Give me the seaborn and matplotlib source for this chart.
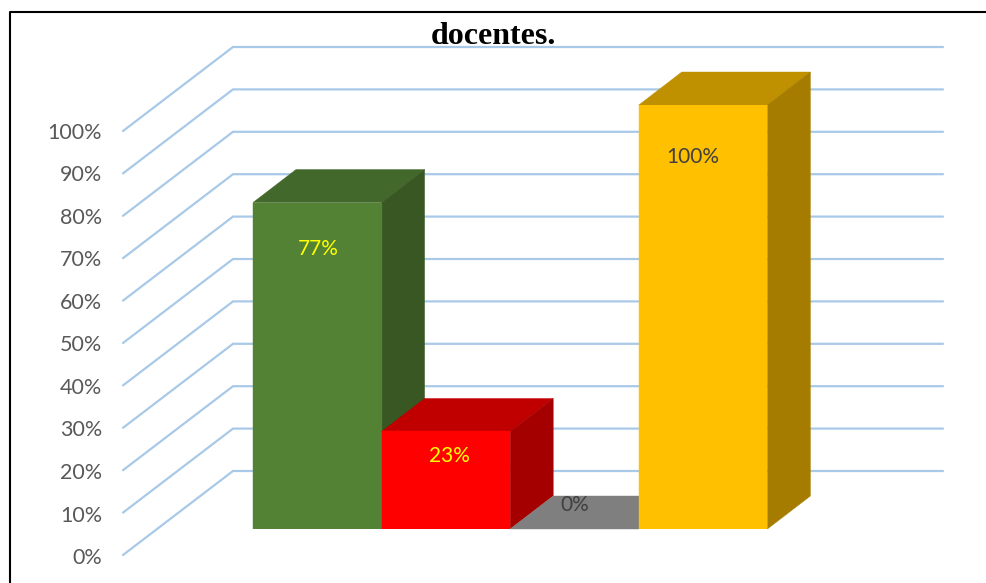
import matplotlib
matplotlib.use('Agg')
import matplotlib.pyplot as plt
from matplotlib.lines import Line2D
import seaborn as sns

# data
categorias = ['A', 'B', 'C', 'D']
valores = [77, 23, 0, 100]
etiquetas = ['77%', '23%', '0%', '100%']
ticks = [0, 10, 20, 30, 40, 50, 60, 70, 80, 90, 100]

# colores: frente, arriba, lado
frente = ['#548235', '#FF0000', '#7F7F7F', '#FFC000']
arriba = ['#43682B', '#C00000', '#7F7F7F', '#BF9000']
lado = ['#385723', '#A50000', '#7F7F7F', '#A67C00']
color_etiqueta = ['#FFFF00', '#FFFF00', '#404040', '#404040']
color_rejilla = '#A9C9E8'

W, H = 987, 583
sns.set_theme(style='white')
plt.rcParams['font.family'] = ['Lato', 'DejaVu Sans']

fig = plt.figure(figsize=(W / 100, H / 100), dpi=100)
fig.patch.set_facecolor('white')

# eje de las barras: plano frontal, 0% en y=529 y 100% en y=105 (pixeles)
x0, x1 = 156, 864
y0, y1 = 529, 105
ax = fig.add_axes([x0 / W, (H - y0) / H, (x1 - x0) / W, (y0 - y1) / H])
ax.patch.set_alpha(0)
px_x = 128.6
px_y = (y0 - y1) / 100
xlim = ((x0 - 253) / px_x - 0.5, (x1 - 253) / px_x - 0.5)


def dx(p):
    return p / px_x


def dy(p):
    return p / px_y


# rejilla: pared del fondo y pared lateral
izq = xlim[0]
for t in ticks:
    ax.plot([izq + dx(-33), izq + dx(77), izq + dx(787)],
            [t + dy(-26), t + dy(58), t + dy(58)],
            color=color_rejilla, lw=1.6, clip_on=False, zorder=1, solid_joinstyle='miter')

sns.barplot(x=categorias, y=valores, hue=categorias, palette=frente, width=1.0,
            saturation=1, legend=False, dodge=False, ax=ax, zorder=3, linewidth=0)
ax.set_xlim(xlim)
ax.set_ylim(0, 100)

# caras superior y lateral de cada barra
prof_x, prof_y = dx(43), dy(33)
for i, v in enumerate(valores):
    a, b = i - 0.5, i + 0.5
    z = 3 + i * 0.1
    ax.fill([a, b, b + prof_x, a + prof_x], [v, v, v + prof_y, v + prof_y],
            facecolor=arriba[i], edgecolor=arriba[i], lw=0.3, clip_on=False, zorder=z)
    if v > 0:
        ax.fill([b, b + prof_x, b + prof_x, b], [0, prof_y, v + prof_y, v],
                facecolor=lado[i], edgecolor=lado[i], lw=0.3, clip_on=False, zorder=z)
for i, p in enumerate(ax.patches[:len(valores)]):
    p.set_zorder(3 + i * 0.1 + 0.05)
    p.set_edgecolor(frente[i])
    p.set_linewidth(0.3)

# etiquetas de datos, en pixeles de la figura
pos_etiqueta = [(318, 249), (449, 456), (575, 505), (693, 157)]
for (xe, ye), txt, c in zip(pos_etiqueta, etiquetas, color_etiqueta):
    ax.text((xe - 253) / px_x - 0.5, (y0 - ye) / px_y, txt, color=c, fontsize=15,
            ha='center', va='center', zorder=6)

ax.set_xticks([])
ax.set_yticks([])
ax.set_xlabel('')
ax.set_ylabel('')
sns.despine(ax=ax, left=True, bottom=True)

# eje de valores, en el plano delantero
ax_t = fig.add_axes([123 / W, (H - 556) / H, 1 / W, 425 / H])
ax_t.patch.set_alpha(0)
ax_t.set_ylim(0, 100)
ax_t.set_xticks([])
ax_t.set_yticks(ticks)
ax_t.set_yticklabels([f'{t}%' for t in ticks], fontsize=15.5, color='#595959')
ax_t.tick_params(axis='y', length=0, pad=15)
sns.despine(ax=ax_t, left=True, bottom=True)

# titulo cortado y marco
fig.text(493.5 / W, 1 - 44 / H, 'docentes.', family='Liberation Serif', fontweight='bold',
         fontsize=23, color='black', ha='center', va='baseline', zorder=10)
fig.add_artist(Line2D([9.5 / W, 9.5 / W, 1], [0, 1 - 11.5 / H, 1 - 11.5 / H], color='black', lw=1.5))

fig.savefig('out.png', dpi=100)
